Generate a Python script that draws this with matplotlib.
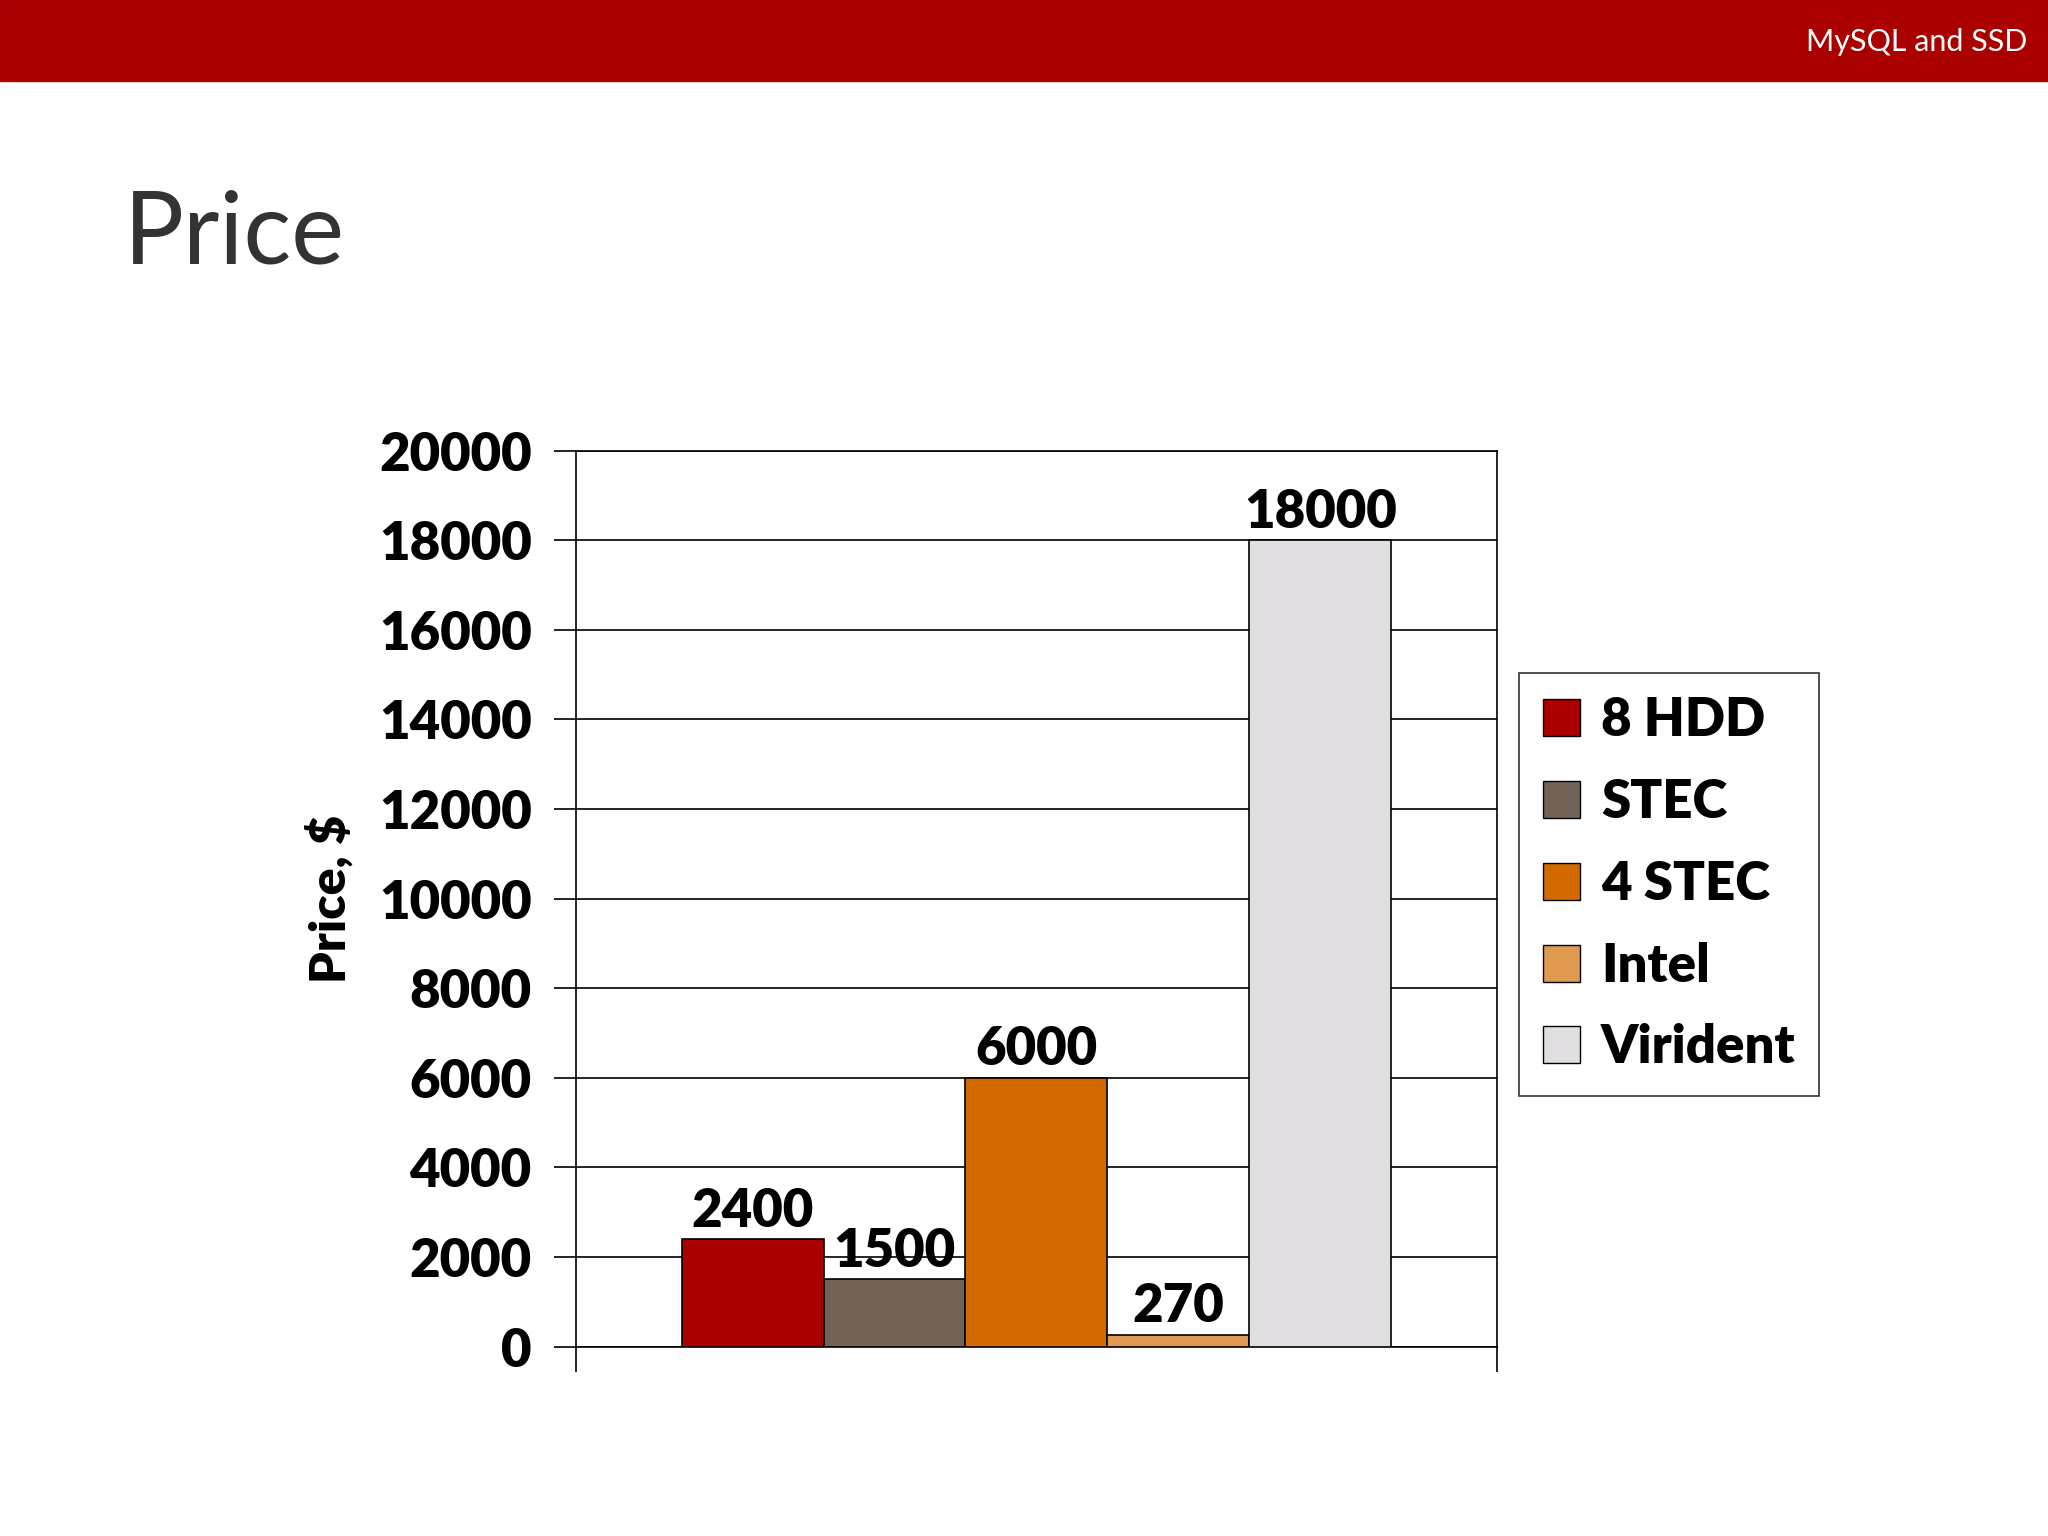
import matplotlib
matplotlib.use("Agg")
import matplotlib.pyplot as plt
from matplotlib.patches import Rectangle

categories = ["8 HDD", "STEC", "4 STEC", "Intel", "Virident"]
values = [2400, 1500, 6000, 270, 18000]
colors = ["#AA0000", "#736357", "#D26A00", "#E09A50", "#E0DEE0"]
yticks = list(range(0, 20001, 2000))

plt.rcParams['font.family'] = ['Lato', 'DejaVu Sans']
fig = plt.figure(figsize=(20.48, 15.36), dpi=100)
fig.patches.append(Rectangle((0, 1 - 62/1176), 1, 62/1176, transform=fig.transFigure,
                             color="#AA0000", zorder=0))
fig.text(0.99, 1 - 32/1176, "MySQL and SSD", color="white", fontsize=22,
         ha="right", va="center")
fig.text(95/1568, 1 - 180/1176, "Price", color="#333333", fontsize=72,
         ha="left", va="center")

ax = fig.add_axes([441/1568, 1 - 1031/1176, 705/1568, 686/1176])
x = list(range(len(values)))
ax.bar(x, values, width=1.0, color=colors, edgecolor="black", linewidth=1.2,
       label=categories, zorder=3)
for xi, v in zip(x, values):
    ax.text(xi, v + 80, str(v), ha="center", va="bottom", fontsize=38,
            fontweight="heavy", zorder=4)
a = 0.745
ax.set_xlim(-0.5 - a, 4.5 + a)
ax.set_ylim(0, 20000)
ax.set_yticks(yticks)
ax.set_yticklabels([str(t) for t in yticks], fontsize=38, fontweight="heavy")
ax.grid(axis="y", color="black", linewidth=1.2, zorder=0)
ax.set_xticks([-0.5 - a, 4.5 + a])
ax.set_xticklabels([])
ax.tick_params(axis="x", length=18, width=1.2, direction="out")
ax.tick_params(axis="y", length=16, width=1.2, pad=16)
for s in ax.spines.values():
    s.set_linewidth(1.2)
ax.set_ylabel("Price, $", fontsize=36, fontweight="heavy", labelpad=18)

handles = [Rectangle((0, 0), 1, 1, facecolor=c, edgecolor="black") for c in colors]
leg = fig.legend(handles, categories, loc="upper left",
                 bbox_to_anchor=(1163/1568, 1 - 515/1176),
                 prop={"size": 38, "weight": "heavy"}, frameon=True, fancybox=False,
                 edgecolor="black", handlelength=0.7, handleheight=0.7,
                 labelspacing=0.62, handletextpad=0.4, borderpad=0.45, borderaxespad=0)
leg.get_frame().set_linewidth(1.2)
fig.savefig("out.png", dpi=100)
